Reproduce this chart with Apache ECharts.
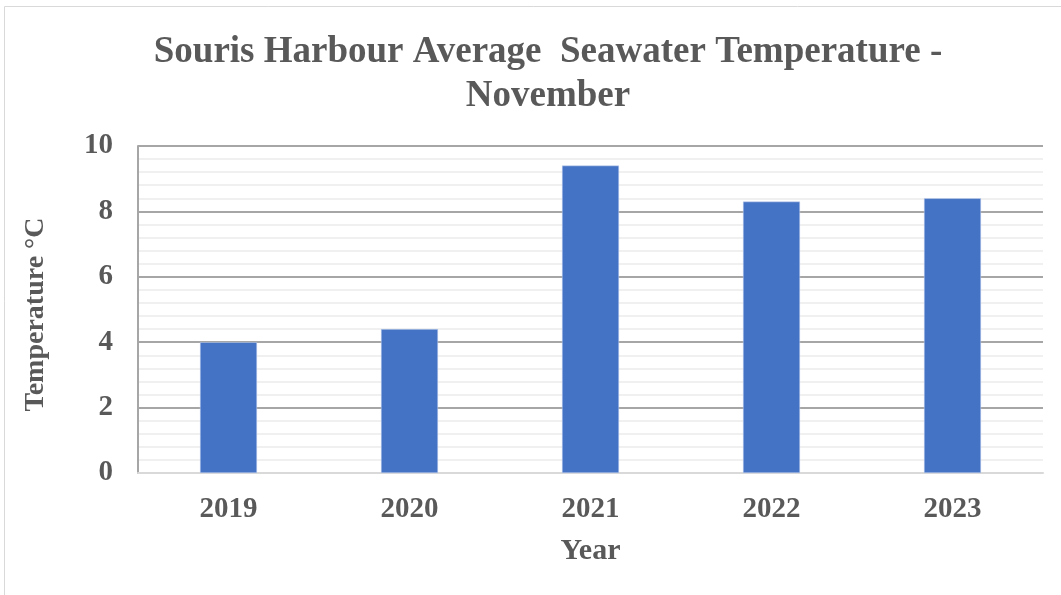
<!DOCTYPE html>
<html>
<head>
<meta charset="utf-8">
<script src="https://cdn.jsdelivr.net/npm/echarts@6/dist/echarts.min.js"></script>
<style>
  html, body { margin: 0; padding: 0; background: #fff; }
  #chart { width: 1061px; height: 595px; }
</style>
</head>
<body>
<div id="chart"></div>
<script>
const years = ["2019", "2020", "2021", "2022", "2023"];
const temps = [4.0, 4.4, 9.4, 8.3, 8.4];

const serif = "'Liberation Serif', 'Times New Roman', serif";
const textGray = "#595959";

const myChart = echarts.init(document.getElementById("chart"));
myChart.setOption({
  animation: false,
  title: {
    text: "Souris Harbour Average  Seawater Temperature -\nNovember",
    left: 543,
    textAlign: "center",
    top: 25,
    textStyle: {
      fontFamily: serif,
      fontWeight: "bold",
      fontSize: 37,
      lineHeight: 44,
      color: textGray,
    },
  },
  graphic: [
    {
      type: "rect",
      shape: { x: 4.5, y: 6.5, width: 1070, height: 600 },
      style: { fill: "none", stroke: "#d9d9d9", lineWidth: 1 },
      silent: true,
    },
  ],
  grid: { left: 138, right: 18, top: 146, bottom: 122 },
  xAxis: {
    type: "category",
    data: years,
    name: "Year",
    nameLocation: "middle",
    nameGap: 63,
    nameTextStyle: { fontFamily: serif, fontWeight: "bold", fontSize: 30, color: textGray },
    axisTick: { show: false },
    axisLine: { show: true, lineStyle: { color: "#d9d9d9", width: 2 } },
    axisLabel: { fontFamily: serif, fontWeight: "bold", fontSize: 29, color: textGray, margin: 22 },
  },
  yAxis: {
    type: "value",
    min: 0,
    max: 10,
    interval: 2,
    name: "Temperature °C",
    nameLocation: "middle",
    nameGap: 88,
    nameTextStyle: { fontFamily: serif, fontWeight: "bold", fontSize: 28, color: textGray, padding: [0, 10, 0, 0] },
    axisLine: { show: true, lineStyle: { color: "#a6a6a6", width: 2 } },
    axisTick: { show: false },
    axisLabel: { fontFamily: serif, fontWeight: "bold", fontSize: 29, color: textGray, margin: 25 },
    splitLine: { show: true, lineStyle: { color: "#a6a6a6", width: 2 } },
    minorTick: { show: false, splitNumber: 5 },
    minorSplitLine: { show: true, lineStyle: { color: "#f0f0f0", width: 2 } },
  },
  series: [
    {
      type: "bar",
      data: temps,
      barWidth: "31.5%",
      itemStyle: { color: "#4472c4", borderColor: "#c9d7f0", borderWidth: 0.5 },
    },
  ],
});
</script>
</body>
</html>
